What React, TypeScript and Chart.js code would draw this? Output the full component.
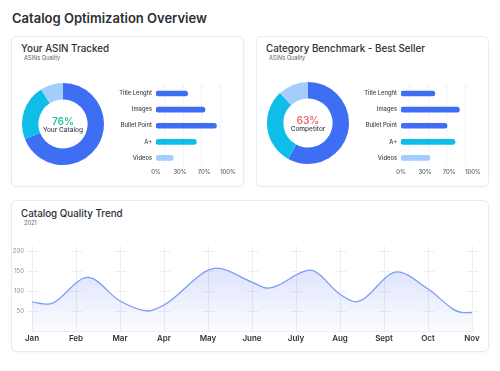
import React, { useEffect, useRef } from "react";
import { Chart, registerables } from "chart.js";

Chart.register(...registerables);
Chart.defaults.font.family = "Inter, 'Noto Sans', sans-serif";

// ---- data ----
const donutLabels = ["Good", "Average", "Poor"];
const yourDonut = [69, 22, 9];
const competitorDonut = [58, 30, 12];

const barCategories = ["Title Lenght", "Images", "Bullet Point", "A+", "Videos"];
const yourBars = [44, 68, 84, 56, 24];
const competitorBars = [47, 81, 64, 75, 40];
const barTickLabels = ["0%", "30%", "70%", "100%"];
const barTickValues = [0, 33.3, 66.7, 100];
const barGridValues = [11, 37, 63, 89];

const months = ["Jan", "Feb", "Mar", "Apr", "May", "June", "July", "Aug", "Sept", "Oct", "Nov"];
const trendX = [0, 0.36, 1.27, 2.0, 2.64, 3.0, 4.2, 5.0, 5.36, 6.32, 7.0, 7.36, 8.3, 9.0, 9.8, 10];
const trendY = [73, 67, 134, 75, 50, 65, 157, 122, 107, 152, 92, 73, 148, 105, 46, 46];
const yTicks = [50, 100, 150, 200];

const BLUE = "#3d6ef4";
const CYAN = "#0fbde9";
const LIGHT = "#a3cdfb";
const donutColors = [BLUE, CYAN, LIGHT];
const barColors = [BLUE, BLUE, BLUE, CYAN, LIGHT];

function Donut({ values }: { values: number[] }) {
  const ref = useRef<HTMLCanvasElement>(null);
  useEffect(() => {
    const chart = new Chart(ref.current!, {
      type: "doughnut",
      data: {
        labels: donutLabels,
        datasets: [{ data: values, backgroundColor: donutColors, borderWidth: 0 }],
      },
      options: {
        animation: false,
        responsive: false,
        cutout: "60%",
        layout: { padding: 4 },
        plugins: { legend: { display: false }, tooltip: { enabled: false } },
      },
    });
    return () => chart.destroy();
  }, []);
  return <canvas ref={ref} width={90} height={90} style={{ width: 90, height: 90 }} />;
}

function Bars({ values }: { values: number[] }) {
  const ref = useRef<HTMLCanvasElement>(null);
  useEffect(() => {
    const gridPlugin = {
      id: "dashGrid",
      beforeDatasetsDraw(chart: any) {
        const { ctx, chartArea } = chart;
        const xs = chart.scales.x;
        ctx.save();
        ctx.strokeStyle = "#e6e8ec";
        ctx.lineWidth = 1;
        ctx.setLineDash([2, 2]);
        barGridValues.forEach((v) => {
          const px = Math.round(xs.getPixelForValue(v)) + 0.5;
          ctx.beginPath();
          ctx.moveTo(px, chartArea.top);
          ctx.lineTo(px, chartArea.bottom);
          ctx.stroke();
        });
        ctx.restore();
      },
    };
    const chart = new Chart(ref.current!, {
      type: "bar",
      data: {
        labels: barCategories,
        datasets: [
          {
            data: values,
            backgroundColor: barColors,
            barThickness: 5,
            borderRadius: 3,
            borderSkipped: false,
          },
        ],
      },
      options: {
        animation: false,
        responsive: false,
        indexAxis: "y",
        layout: { padding: { right: 12, top: 0, bottom: 0, left: 0 } },
        plugins: { legend: { display: false }, tooltip: { enabled: false } },
        scales: {
          x: {
            min: 0,
            max: 100,
            grid: { display: false, drawTicks: false },
            border: { display: false },
            afterBuildTicks: (axis: any) => {
              axis.ticks = barTickValues.map((v) => ({ value: v }));
            },
            afterFit: (axis: any) => {
              axis.height = 14;
            },
            ticks: {
              padding: 3,
              autoSkip: false,
              maxRotation: 0,
              color: "#555a60",
              font: { size: 5.8, weight: 500 },
              callback: (_v: any, i: number) => barTickLabels[i],
            },
          },
          y: {
            grid: { display: false, drawTicks: false },
            border: { display: false },
            afterFit: (axis: any) => {
              axis.width = 56;
            },
            ticks: {
              padding: 4,
              color: "#3a3f45",
              font: { size: 5.8, weight: 500 },
            },
          },
        },
      },
      plugins: [gridPlugin],
    });
    return () => chart.destroy();
  }, []);
  return <canvas ref={ref} width={140} height={102} style={{ width: 140, height: 102 }} />;
}

function Trend() {
  const ref = useRef<HTMLCanvasElement>(null);
  useEffect(() => {
    const crossPlugin = {
      id: "crosses",
      beforeDatasetsDraw(chart: any) {
        const { ctx, chartArea } = chart;
        const xs = chart.scales.x;
        const ys = chart.scales.y;
        ctx.save();
        ctx.strokeStyle = "#eceef2";
        ctx.lineWidth = 1;
        months.forEach((_m, i) => {
          const px = Math.round(xs.getPixelForValue(i)) + 0.5;
          ctx.beginPath();
          ctx.moveTo(px, chartArea.top - 5);
          ctx.lineTo(px, chartArea.bottom);
          ctx.stroke();
          yTicks.forEach((t) => {
            const py = Math.round(ys.getPixelForValue(t)) + 0.5;
            ctx.beginPath();
            ctx.moveTo(px - 6, py);
            ctx.lineTo(px + 6, py);
            ctx.stroke();
          });
        });
        ctx.beginPath();
        ctx.moveTo(chartArea.left, Math.round(chartArea.bottom) + 0.5);
        ctx.lineTo(chartArea.right, Math.round(chartArea.bottom) + 0.5);
        ctx.stroke();
        ctx.restore();
      },
    };
    const chart = new Chart(ref.current!, {
      type: "line",
      data: {
        datasets: [
          {
            data: trendX.map((x, i) => ({ x, y: trendY[i] })),
            borderColor: "#7c9cf7",
            borderWidth: 1.3,
            pointRadius: 0,
            cubicInterpolationMode: "monotone",
            fill: "origin",
            backgroundColor: (c: any) => {
              const { chart } = c;
              const area = chart.chartArea;
              if (!area) return "rgba(124,156,247,0.15)";
              const g = chart.ctx.createLinearGradient(0, area.top, 0, area.bottom);
              g.addColorStop(0, "rgba(124,150,245,0.32)");
              g.addColorStop(1, "rgba(124,150,245,0.03)");
              return g;
            },
          },
        ],
      },
      options: {
        animation: false,
        responsive: false,
        layout: { padding: { top: 15, right: 16, left: 0, bottom: 0 } },
        plugins: { legend: { display: false }, tooltip: { enabled: false } },
        scales: {
          x: {
            type: "linear",
            min: 0,
            max: 10,
            grid: { display: false, drawTicks: false },
            border: { display: false },
            afterFit: (axis: any) => {
              axis.height = 17;
            },
            ticks: {
              stepSize: 1,
              autoSkip: false,
              maxRotation: 0,
              padding: 3,
              color: "#2f3338",
              font: { size: 8, weight: 600 },
              callback: (v: any) => months[v],
            },
          },
          y: {
            min: 0,
            max: 200,
            grid: { display: false, drawTicks: false },
            border: { display: false },
            afterFit: (axis: any) => {
              axis.width = 20;
            },
            ticks: {
              stepSize: 50,
              padding: 8,
              color: "#8a8f96",
              font: { size: 6 },
              callback: (v: any) => (v === 0 ? "" : String(v)),
            },
          },
        },
      },
      plugins: [crossPlugin],
    });
    return () => chart.destroy();
  }, []);
  return <canvas ref={ref} width={476} height={112} style={{ width: 476, height: 112 }} />;
}

const abs = (l: number, t: number, extra: any = {}) => ({ position: "absolute" as const, left: l, top: t, ...extra });

const card = (l: number, t: number, w: number, h: number) =>
  abs(l, t, {
    width: w,
    height: h,
    boxSizing: "border-box",
    border: "1px solid #e8ebef",
    borderRadius: 5,
    background: "#fff",
    boxShadow: "0 1px 2px rgba(0,0,0,0.03)",
  });

const titleStyle = { fontSize: 9.8, fontWeight: 500, color: "#2b2f33", whiteSpace: "nowrap" as const };
const subStyle = { fontSize: 5.6, color: "#5a5f66", whiteSpace: "nowrap" as const };

function Center({ cx, cy, pct, color, label }: any) {
  return (
    <>
      <div style={abs(cx - 40, cy - 9, { width: 80, textAlign: "center", fontSize: 10, fontWeight: 600, color, lineHeight: "12px" })}>{pct}</div>
      <div style={abs(cx - 40, cy + 1.5, { width: 80, textAlign: "center", fontSize: 6.5, fontWeight: 500, color: "#3a3f45", lineHeight: "9px" })}>{label}</div>
    </>
  );
}

export default function App() {
  return (
    <div
      style={{
        position: "fixed",
        left: 0,
        top: 0,
        width: 500,
        height: 371,
        background: "#fff",
        fontFamily: "Inter, 'Noto Sans', sans-serif",
        overflow: "hidden",
      }}
    >
      <div style={abs(12, 10, { fontSize: 13, fontWeight: 600, color: "#2b2f33", whiteSpace: "nowrap", lineHeight: "17px" })}>
        Catalog Optimization Overview
      </div>

      <div style={card(11, 36, 233, 151)} />
      <div style={card(256, 36, 233, 151)} />
      <div style={card(11, 200, 478, 152)} />

      <div style={abs(21, 42, { ...titleStyle, lineHeight: "14px" })}>Your ASIN Tracked</div>
      <div style={abs(24, 55, { ...subStyle, lineHeight: "7px" })}>ASINs Quality</div>
      <div style={abs(266, 42, { ...titleStyle, lineHeight: "14px" })}>Category Benchmark - Best Seller</div>
      <div style={abs(269, 55, { ...subStyle, lineHeight: "7px" })}>ASINs Quality</div>
      <div style={abs(21, 207, { ...titleStyle, lineHeight: "14px" })}>Catalog Quality Trend</div>
      <div style={abs(24, 219.5, { ...subStyle, lineHeight: "7px" })}>2021</div>

      <div style={abs(18, 79)}>
        <Donut values={yourDonut} />
      </div>
      <Center cx={63} cy={124} pct="76%" color="#20c29a" label="Your Catalog" />
      <div style={abs(263, 78)}>
        <Donut values={competitorDonut} />
      </div>
      <Center cx={308} cy={123} pct="63%" color="#f0626b" label="Competitor" />

      <div style={abs(100, 78)}>
        <Bars values={yourBars} />
      </div>
      <div style={abs(345, 78)}>
        <Bars values={competitorBars} />
      </div>

      <div style={abs(12, 236)}>
        <Trend />
      </div>
    </div>
  );
}
